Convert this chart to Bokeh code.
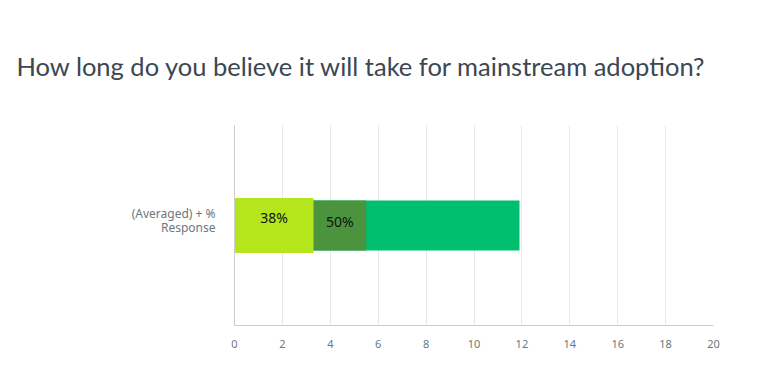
from bokeh.plotting import figure
from bokeh.models import ColumnDataSource, FixedTicker, Range1d
from bokeh.core.properties import value
from bokeh.embed import file_html
from bokeh.resources import INLINE

title_text = "How long do you believe it will take for mainstream adoption?"
categories = ["(Averaged) + % Response"]
category_lines = ["(Averaged) + %", "Response"]
series_names = ["Short", "Medium", "Long"]
series_values = [3.3, 5.5, 11.9]
series_colors = ["#b5e51d", "#4b943d", "#00bf6f"]
bar_labels = ["38%", "50%", ""]
x_ticks = [0, 2, 4, 6, 8, 10, 12, 14, 16, 18, 20]

p = figure(width=747, height=358, y_range=Range1d(0, len(categories)),
           x_range=Range1d(0, 20),
           output_backend="svg", toolbar_location=None,
           min_border_left=234, min_border_right=34, min_border_bottom=33,
           min_border_top=125)
p.outline_line_color = None

ycat = 0.5  # centre of the single category slot
heights = [0.275, 0.25, 0.25]
for i in [2, 1, 0]:
    src = ColumnDataSource(dict(y=[ycat], right=[series_values[i]], left=[0]))
    p.hbar(y="y", left="left", right="right", height=heights[i], source=src,
           fill_color=series_colors[i], line_color=None)

starts = [0, series_values[0], series_values[1]]
yoffs = [8, 4]
for i in range(2):
    mid = (starts[i] + series_values[i]) / 2
    src = ColumnDataSource(dict(x=[mid], y=[ycat], t=[bar_labels[i]]))
    p.text(x="x", y="y", text="t", source=src, text_align="center",
           text_baseline="middle", text_font=value("Noto Sans"),
           text_font_size="14px", text_color="#111111", y_offset=-yoffs[i])

p.title.text = title_text
p.title.text_font = "Lato"
p.title.text_font_size = "25.5px"
p.title.text_font_style = "normal"
p.title.text_color = "#3b4752"
p.title.offset = -218
p.title.standoff = 90

p.xaxis.ticker = FixedTicker(ticks=x_ticks)
p.xaxis.axis_line_color = "#cccccc"
p.xaxis.major_tick_line_color = None
p.xaxis.minor_tick_line_color = None
p.xaxis.major_label_text_color = "#6a7880"
p.xaxis.major_label_text_font = "Noto Sans"
p.xaxis.major_label_text_font_size = "11px"
p.xaxis.major_label_standoff = 8

# category name drawn as two axis label lines around the bar centre
line_pos = [ycat + 0.06, ycat - 0.01]
p.yaxis.ticker = FixedTicker(ticks=line_pos)
p.yaxis.major_label_overrides = {line_pos[0]: category_lines[0],
                                 line_pos[1]: category_lines[1]}
p.yaxis.axis_line_color = "#cccccc"
p.yaxis.major_tick_line_color = None
p.yaxis.minor_tick_line_color = None
p.yaxis.major_label_text_color = "#6a7880"
p.yaxis.major_label_text_font = "Noto Sans"
p.yaxis.major_label_text_font_size = "12px"
p.yaxis.major_label_standoff = 13

p.xgrid.grid_line_color = "#e8e8e8"
p.ygrid.grid_line_color = None

open("out.html", "w").write(file_html(p, INLINE))
